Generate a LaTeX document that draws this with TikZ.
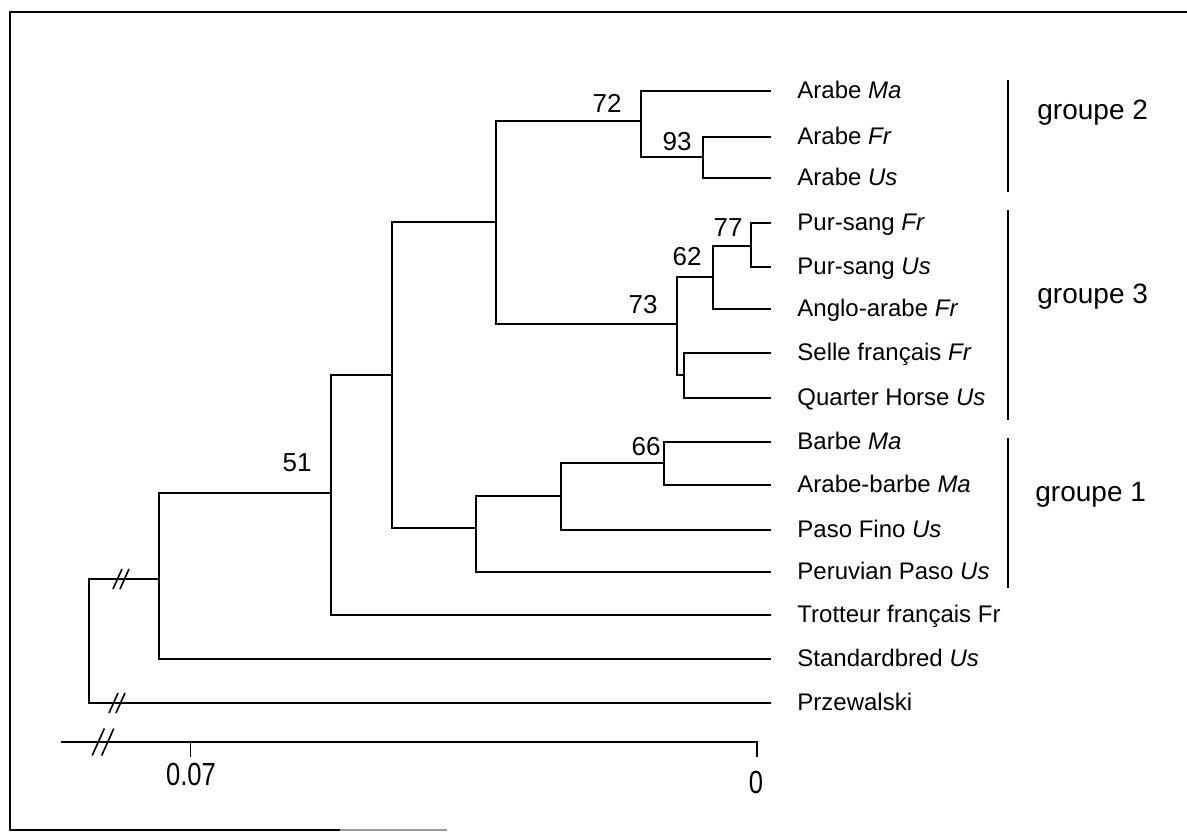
\documentclass[tikz,border=0pt]{standalone}
\usepackage{fontspec}
\setmainfont{Liberation Sans}
\usepackage{graphicx}
\usepackage{tikz}
\usetikzlibrary{positioning}
\definecolor{scangray}{HTML}{9A9A9A}
\tikzset{
  branch/.style={line width=0.8pt, line join=miter},
  bar/.style={line width=0.6pt},
  leaf/.style={anchor=west, inner xsep=13pt, inner ysep=0pt, text height=0.72em, text depth=0pt, font=\fontsize{12}{14}\selectfont},
  boot/.style={inner sep=0pt, font=\fontsize{13}{15}\selectfont},
  grouplabel/.style={anchor=west, inner sep=0pt, font=\fontsize{14}{16}\selectfont},
  scalelabel/.style={inner sep=0pt, font=\fontsize{16}{18}\selectfont},
  brkmark/.pic={\draw[line width=0.8pt] (-8,10) -- (1,-10) (-1,10) -- (8,-10);}
}

\begin{document}
\begin{tikzpicture}[x=0.5pt,y=-0.5pt]
        \useasboundingbox (0,0) rectangle (1187,832);
        \draw[line width=1.3pt] (1187,12) -- (10,12) -- (10,830) -- (340,830);
        \draw[line width=1.3pt,scangray] (340,830) -- (447,830);

        \node[leaf] (arma) at (771,91) {Arabe \textit{Ma}};
        \node[leaf] (arfr) at (771,137) {Arabe \textit{Fr}};
        \node[leaf] (arus) at (771,178) {Arabe \textit{Us}};
        \node[leaf] (psfr) at (771,223) {Pur-sang \textit{Fr}};
        \node[leaf] (psus) at (771,267) {Pur-sang \textit{Us}};
        \node[leaf] (aafr) at (771,309) {Anglo-arabe \textit{Fr}};
        \node[leaf] (sffr) at (771,353) {Selle français \textit{Fr}};
        \node[leaf] (qhus) at (771,398) {Quarter Horse \textit{Us}};
        \node[leaf] (bama) at (771,442) {Barbe \textit{Ma}};
        \node[leaf] (abma) at (771,485) {Arabe-barbe \textit{Ma}};
        \node[leaf] (pfus) at (771,530) {Paso Fino \textit{Us}};
        \node[leaf] (ppus) at (771,572) {Peruvian Paso \textit{Us}};
        \node[leaf] (tffr) at (771,615) {Trotteur français Fr};
        \node[leaf] (sbus) at (771,659) {Standardbred \textit{Us}};
        \node[leaf] (prz) at (771,703) {Przewalski};

        \coordinate (n93) at (703,157);
        \coordinate (n72) at (641,121);
        \coordinate (n77) at (751,246);
        \coordinate (n62) at (713,277);
        \coordinate (nsq) at (684,375);
        \coordinate (n73) at (677,324);
        \coordinate (n23) at (496,222);
        \coordinate (n66) at (664,463);
        \coordinate (n1a) at (561,496);
        \coordinate (n1) at (476,528);
        \coordinate (n123) at (392,375);
        \coordinate (n51) at (331,493);
        \coordinate (nstd) at (159,579);
        \coordinate (nroot) at (89,641);

        \draw[branch] (arfr.west) -| (n93) |- (arus.west);
        \draw[branch] (arma.west) -| (n72) |- (n93);
        \draw[branch] (psfr.west) -| (n77) |- (psus.west);
        \draw[branch] (n77) -| (n62) |- (aafr.west);
        \draw[branch] (sffr.west) -| (nsq) |- (qhus.west);
        \draw[branch] (n62) -| (n73) |- (nsq);
        \draw[branch] (n72) -| (n23) |- (n73);
        \draw[branch] (bama.west) -| (n66) |- (abma.west);
        \draw[branch] (n66) -| (n1a) |- (pfus.west);
        \draw[branch] (n1a) -| (n1) |- (ppus.west);
        \draw[branch] (n23) -| (n123) |- (n1);
        \draw[branch] (n123) -| (n51) |- (tffr.west);
        \draw[branch] (n51) -| (nstd) |- (sbus.west);
        \draw[branch] (nstd) -| (nroot) |- (prz.west);
        \pic at (121,579) {brkmark};
        \pic at (117,703) {brkmark};

        \node[boot] (b72) at (607,103) {72};
        \node[boot] (b93) at (677,142) {93};
        \node[boot] (b77) at (728,228) {77};
        \node[boot] (b62) at (687,257) {62};
        \node[boot] (b73) at (643,305) {73};
        \node[boot] (b66) at (646,447) {66};
        \node[boot] (b51) at (297,463) {51};

        \draw[bar] (1008,80) -- (1008,192);
        \draw[bar] (1008,210) -- (1008,420);
        \draw[bar] (1008,438) -- (1008,588);
        \node[grouplabel] (g2) at (1037,113) {groupe 2};
        \node[grouplabel] (g3) at (1037,297) {groupe 3};
        \node[grouplabel] (g1) at (1035,495) {groupe 1};

        \coordinate (axl) at (61,742);
        \coordinate (t07) at (190,742);
        \coordinate (t0) at (757,742);
        \draw[branch] (axl) -- (t0) -- ++(0,15);
        \draw[line width=0.5pt] (t07) -- ++(0,15);
        \pic[scale=1.35] at (103,742) {brkmark};
        \node[scalelabel] (l07) at (191,774) {\scalebox{.8}[1]{0.07}};
        \node[scalelabel] (l0) at (756,782) {\scalebox{.8}[1]{0}};
      \end{tikzpicture}
\end{document}
